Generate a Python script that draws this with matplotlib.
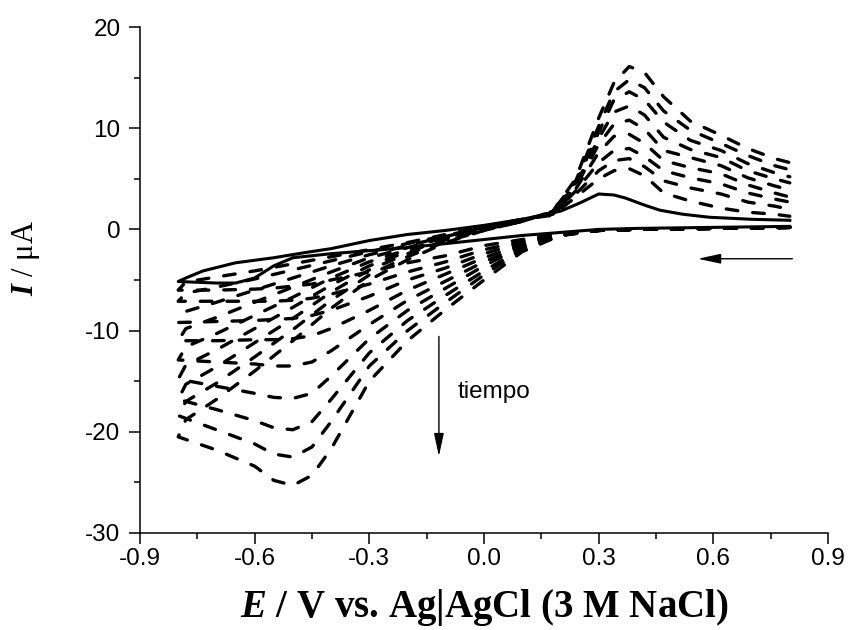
import matplotlib
matplotlib.use("Agg")
import matplotlib.pyplot as plt
from matplotlib.ticker import MultipleLocator

plt.rcParams['font.family'] = ['Liberation Sans', 'DejaVu Sans']
plt.rcParams['axes.unicode_minus'] = False
plt.rcParams['mathtext.fontset'] = 'custom'
plt.rcParams['mathtext.rm'] = 'Liberation Serif'
plt.rcParams['mathtext.it'] = 'Liberation Serif:italic'
plt.rcParams['mathtext.bf'] = 'Liberation Serif:bold'
plt.rcParams['mathtext.bfit'] = 'Liberation Serif:bold:italic'

# potential grids (V) for the cathodic (0.8 -> -0.8) and anodic (-0.8 -> 0.8) sweeps
E_cat = [0.8, 0.6, 0.4, 0.3, 0.2, 0.1, 0.0, -0.1, -0.2, -0.3, -0.4, -0.45, -0.5, -0.55, -0.6, -0.7, -0.8]
E_an = [-0.8, -0.78, -0.7, -0.6, -0.5, -0.4, -0.3, -0.2, -0.1, 0.0, 0.1, 0.18, 0.24, 0.3, 0.34, 0.38, 0.42, 0.47, 0.54, 0.62, 0.69, 0.76, 0.8]

# first scan (solid line)
E_solid_cat = [0.8, 0.6, 0.4, 0.3, 0.2, 0.1, 0.0, -0.1, -0.2, -0.3, -0.4, -0.5, -0.55, -0.6, -0.65, -0.7, -0.8]
I_solid_cat = [0.3, 0.2, 0.1, 0.0, -0.3, -0.6, -1.0, -1.4, -1.8, -2.1, -2.4, -2.8, -3.6, -4.8, -5.3, -5.3, -5.15]
E_solid_an = [-0.8, -0.78, -0.735, -0.65, -0.55, -0.47, -0.4, -0.3, -0.2, -0.1, 0.0, 0.1, 0.2, 0.25, 0.3, 0.34, 0.37, 0.42, 0.46, 0.52, 0.59, 0.7, 0.8]
I_solid_an = [-5.15, -4.8, -4.1, -3.3, -2.8, -2.3, -1.9, -1.1, -0.5, -0.1, 0.4, 1.0, 1.8, 2.6, 3.5, 3.4, 3.1, 2.4, 1.9, 1.5, 1.2, 1.0, 0.9]

# following scans (dashed lines), largest first
I_cat = [
    [0.2, 0.1, 0.0, -0.1, -0.6, -2.2, -5.0, -7.9, -11.0, -15.0, -21.7, -24.3, -25.3, -24.8, -23.4, -21.8, -20.5],
    [0.2, 0.1, 0.0, -0.1, -0.6, -2.0, -4.5, -7.2, -10.0, -13.5, -19.0, -21.5, -22.5, -22.2, -21.2, -19.8, -18.4],
    [0.2, 0.1, 0.0, -0.1, -0.6, -1.9, -4.1, -6.5, -9.0, -12.2, -16.8, -19.0, -19.8, -19.6, -18.9, -17.8, -16.8],
    [0.2, 0.1, 0.0, -0.1, -0.5, -1.7, -3.6, -5.8, -8.0, -10.8, -14.5, -16.2, -16.7, -16.6, -16.2, -15.5, -14.8],
    [0.2, 0.1, 0.0, -0.1, -0.5, -1.6, -3.2, -5.1, -7.0, -9.4, -12.0, -13.1, -13.5, -13.5, -13.3, -13.1, -12.9],
    [0.2, 0.1, 0.0, -0.1, -0.5, -1.5, -2.8, -4.4, -6.0, -8.0, -9.8, -10.5, -10.8, -10.9, -10.9, -11.0, -11.0],
    [0.2, 0.1, 0.0, -0.1, -0.5, -1.3, -2.4, -3.8, -5.0, -6.6, -8.0, -8.5, -8.8, -8.9, -9.0, -9.1, -9.2],
    [0.2, 0.1, 0.0, -0.1, -0.4, -1.2, -2.0, -3.2, -4.2, -5.4, -6.4, -6.8, -7.0, -7.1, -7.1, -7.1, -7.1],
    [0.2, 0.1, 0.0, -0.1, -0.4, -1.0, -1.6, -2.6, -3.3, -4.2, -5.0, -5.4, -5.6, -5.8, -5.9, -6.0, -6.0],
]
I_an = [
    [-20.5, -18.8, -16.8, -14.0, -11.0, -7.8, -5.0, -3.0, -1.3, -0.1, 0.8, 1.8, 5.0, 11.0, 14.5, 16.1, 15.5, 13.1, 10.7, 9.3, 8.0, 7.0, 6.6],
    [-18.4, -17.0, -15.2, -12.6, -9.9, -7.0, -4.5, -2.7, -1.2, -0.1, 0.8, 1.8, 4.8, 10.2, 13.6, 14.8, 14.0, 11.7, 9.8, 8.5, 7.3, 6.3, 5.9],
    [-16.8, -15.3, -13.6, -11.2, -8.8, -6.2, -4.0, -2.4, -1.1, 0.0, 0.8, 1.7, 4.6, 9.6, 12.8, 13.6, 12.8, 10.6, 8.8, 7.8, 6.5, 5.6, 5.2],
    [-14.8, -13.4, -11.9, -9.8, -7.7, -5.5, -3.6, -2.2, -1.0, 0.0, 0.8, 1.7, 4.4, 9.0, 11.6, 12.2, 11.3, 9.1, 7.9, 7.1, 5.8, 5.0, 4.6],
    [-12.9, -11.6, -10.3, -8.5, -6.7, -4.8, -3.2, -2.0, -0.9, 0.1, 0.9, 1.6, 4.2, 8.4, 10.4, 10.8, 9.9, 7.8, 7.1, 6.3, 5.1, 4.3, 3.9],
    [-11.0, -9.8, -8.7, -7.2, -5.7, -4.2, -2.8, -1.8, -0.8, 0.1, 0.9, 1.6, 4.0, 7.6, 9.2, 9.4, 8.5, 6.8, 6.1, 5.5, 4.4, 3.6, 3.2],
    [-9.2, -8.1, -7.2, -6.0, -4.8, -3.6, -2.5, -1.6, -0.7, 0.2, 0.9, 1.5, 3.8, 6.6, 7.8, 8.0, 7.2, 5.8, 5.1, 4.5, 3.6, 3.0, 2.7],
    [-7.1, -6.3, -5.7, -4.9, -4.0, -3.1, -2.2, -1.4, -0.6, 0.2, 1.0, 1.5, 3.5, 5.8, 6.8, 7.0, 6.2, 4.8, 4.1, 3.5, 2.7, 2.3, 2.0],
    [-6.0, -5.2, -4.7, -4.1, -3.4, -2.7, -2.0, -1.3, -0.5, 0.3, 1.0, 1.4, 3.2, 5.0, 5.8, 6.0, 5.3, 3.6, 2.8, 2.1, 1.7, 1.5, 1.3],
]

fig = plt.figure(figsize=(8.51, 6.30), dpi=100)
ax = fig.add_axes([0.1645, 0.154, 0.8085, 0.8031])

for ic, ia in zip(I_cat, I_an):
    ax.plot(E_cat + E_an, ic + ia, color='black', lw=2.4,
            linestyle=(0, (3.5, 4.5)), dash_capstyle='round')

ax.plot(E_solid_cat + E_solid_an, I_solid_cat + I_solid_an, color='black', lw=2.2)

# scan direction and time arrows
ax.annotate('', xy=(0.552, -2.9), xytext=(0.814, -2.9),
            arrowprops=dict(arrowstyle='-|>,head_length=1.4,head_width=0.3', lw=1, color='black', mutation_scale=10))
ax.annotate('', xy=(-0.118, -22.7), xytext=(-0.118, -10.3),
            arrowprops=dict(arrowstyle='-|>,head_length=1.4,head_width=0.3', lw=1, color='black', mutation_scale=10))
ax.text(-0.07, -16.1, 'tiempo', fontsize=17.5, ha='left', va='center')

ax.set_xlim(-0.9, 0.9)
ax.set_ylim(-30, 20)
ax.xaxis.set_major_locator(MultipleLocator(0.3))
ax.xaxis.set_minor_locator(MultipleLocator(0.15))
ax.yaxis.set_major_locator(MultipleLocator(10))
ax.yaxis.set_minor_locator(MultipleLocator(5))
ax.set_xticklabels([f'{v:.1f}' for v in ax.get_xticks()])
ax.spines['top'].set_visible(False)
ax.spines['right'].set_visible(False)
ax.spines['left'].set_linewidth(1.1)
ax.spines['bottom'].set_linewidth(1.1)
ax.tick_params(which='major', direction='out', length=8, width=1.1, labelsize=17.5, pad=3)
ax.tick_params(axis='y', which='major', pad=6)
ax.tick_params(which='minor', direction='out', length=4.5, width=1.1)

ax.set_xlabel(r'$\mathbfit{E}$ / V vs. Ag|AgCl (3 M NaCl)', fontsize=28,
              family='Liberation Serif', fontweight='bold', labelpad=12)
fig.text(26 / 851, 1 - 258 / 630, r'$\mathbfit{I}$ / $\mathrm{\mu}$A', fontsize=22,
         family='Liberation Serif', rotation=90, ha='center', va='center')

fig.savefig('out.png', dpi=100)
